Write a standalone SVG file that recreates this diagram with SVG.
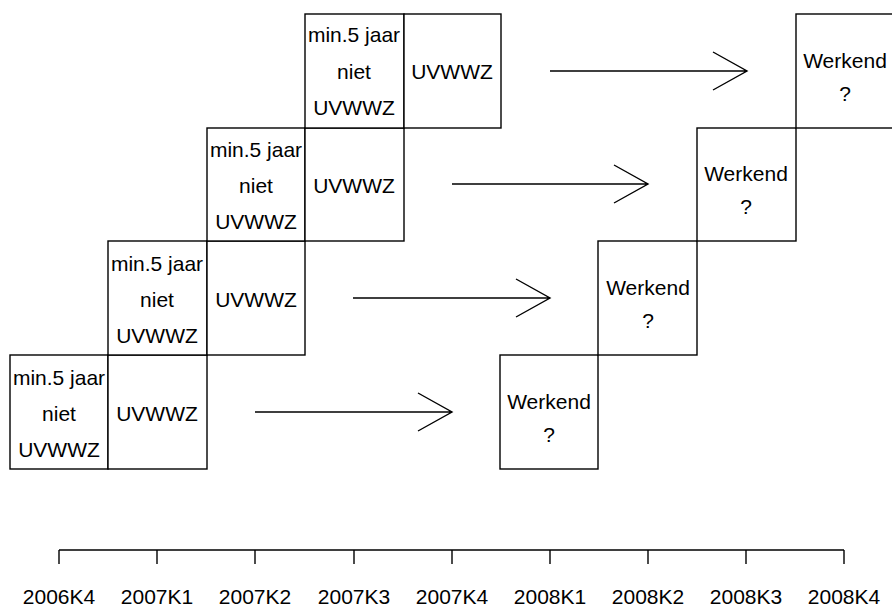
<svg xmlns="http://www.w3.org/2000/svg" width="892" height="607" viewBox="0 0 892 607">
<style>
.b{fill:#fff;stroke:#000;stroke-width:1.4}
.t{font-family:"Liberation Sans",Arial,sans-serif;font-size:21px;fill:#000;text-anchor:middle}
.c{stroke:#000;stroke-width:1.4;fill:none}
</style>
<rect width="892" height="607" fill="#fff"/>
<g id="row1">
<rect class="b" x="10" y="355" width="98" height="114"/>
<rect class="b" x="108" y="355" width="99" height="114"/>
<text class="t" x="59" y="385">min.5 jaar</text>
<text class="t" x="59" y="421">niet</text>
<text class="t" x="59" y="457">UVWWZ</text>
<text class="t" x="157" y="421">UVWWZ</text>
</g>
<g id="row2">
<rect class="b" x="108" y="241" width="99" height="114"/>
<rect class="b" x="207" y="241" width="98" height="114"/>
<text class="t" x="157" y="271">min.5 jaar</text>
<text class="t" x="157" y="307">niet</text>
<text class="t" x="157" y="343">UVWWZ</text>
<text class="t" x="256" y="307">UVWWZ</text>
</g>
<g id="row3">
<rect class="b" x="207" y="128" width="98" height="113"/>
<rect class="b" x="305" y="128" width="99" height="113"/>
<text class="t" x="256" y="157">min.5 jaar</text>
<text class="t" x="256" y="193">niet</text>
<text class="t" x="256" y="229">UVWWZ</text>
<text class="t" x="354" y="193">UVWWZ</text>
</g>
<g id="row4">
<rect class="b" x="305" y="14" width="99" height="114"/>
<rect class="b" x="404" y="14" width="97" height="114"/>
<text class="t" x="354" y="42">min.5 jaar</text>
<text class="t" x="354" y="79">niet</text>
<text class="t" x="354" y="115">UVWWZ</text>
<text class="t" x="452" y="79">UVWWZ</text>
</g>
<g id="werkend1">
<rect class="b" x="500" y="355" width="98" height="114"/>
<text class="t" x="549" y="409">Werkend</text>
<text class="t" x="549" y="442">?</text>
</g>
<g id="werkend2">
<rect class="b" x="598" y="241" width="99" height="114"/>
<text class="t" x="648" y="295">Werkend</text>
<text class="t" x="648" y="328">?</text>
</g>
<g id="werkend3">
<rect class="b" x="697" y="128" width="99" height="113"/>
<text class="t" x="746" y="181">Werkend</text>
<text class="t" x="746" y="214">?</text>
</g>
<g id="werkend4">
<rect class="b" x="796" y="14" width="99" height="114"/>
<text class="t" x="845" y="68">Werkend</text>
<text class="t" x="845" y="101">?</text>
</g>
<g id="connectors">
<path class="c" d="M255 412H452M418 393L452 412L418 431"/>
<path class="c" d="M353 298H550M516 279L550 298L516 317"/>
<path class="c" d="M452 184H648M614 165L648 184L614 203"/>
<path class="c" d="M550 71H747M713 52L747 71L713 90"/>
</g>
<g id="timeline">
<path class="c" d="M59 550H844M59 550V564M157 550V564M255 550V564M354 550V564M452 550V564M550 550V564M648 550V564M746 550V564M844 550V564"/>
<text class="t" x="59" y="604">2006K4</text>
<text class="t" x="157" y="604">2007K1</text>
<text class="t" x="255" y="604">2007K2</text>
<text class="t" x="354" y="604">2007K3</text>
<text class="t" x="452" y="604">2007K4</text>
<text class="t" x="550" y="604">2008K1</text>
<text class="t" x="648" y="604">2008K2</text>
<text class="t" x="746" y="604">2008K3</text>
<text class="t" x="844" y="604">2008K4</text>
</g>
</svg>
